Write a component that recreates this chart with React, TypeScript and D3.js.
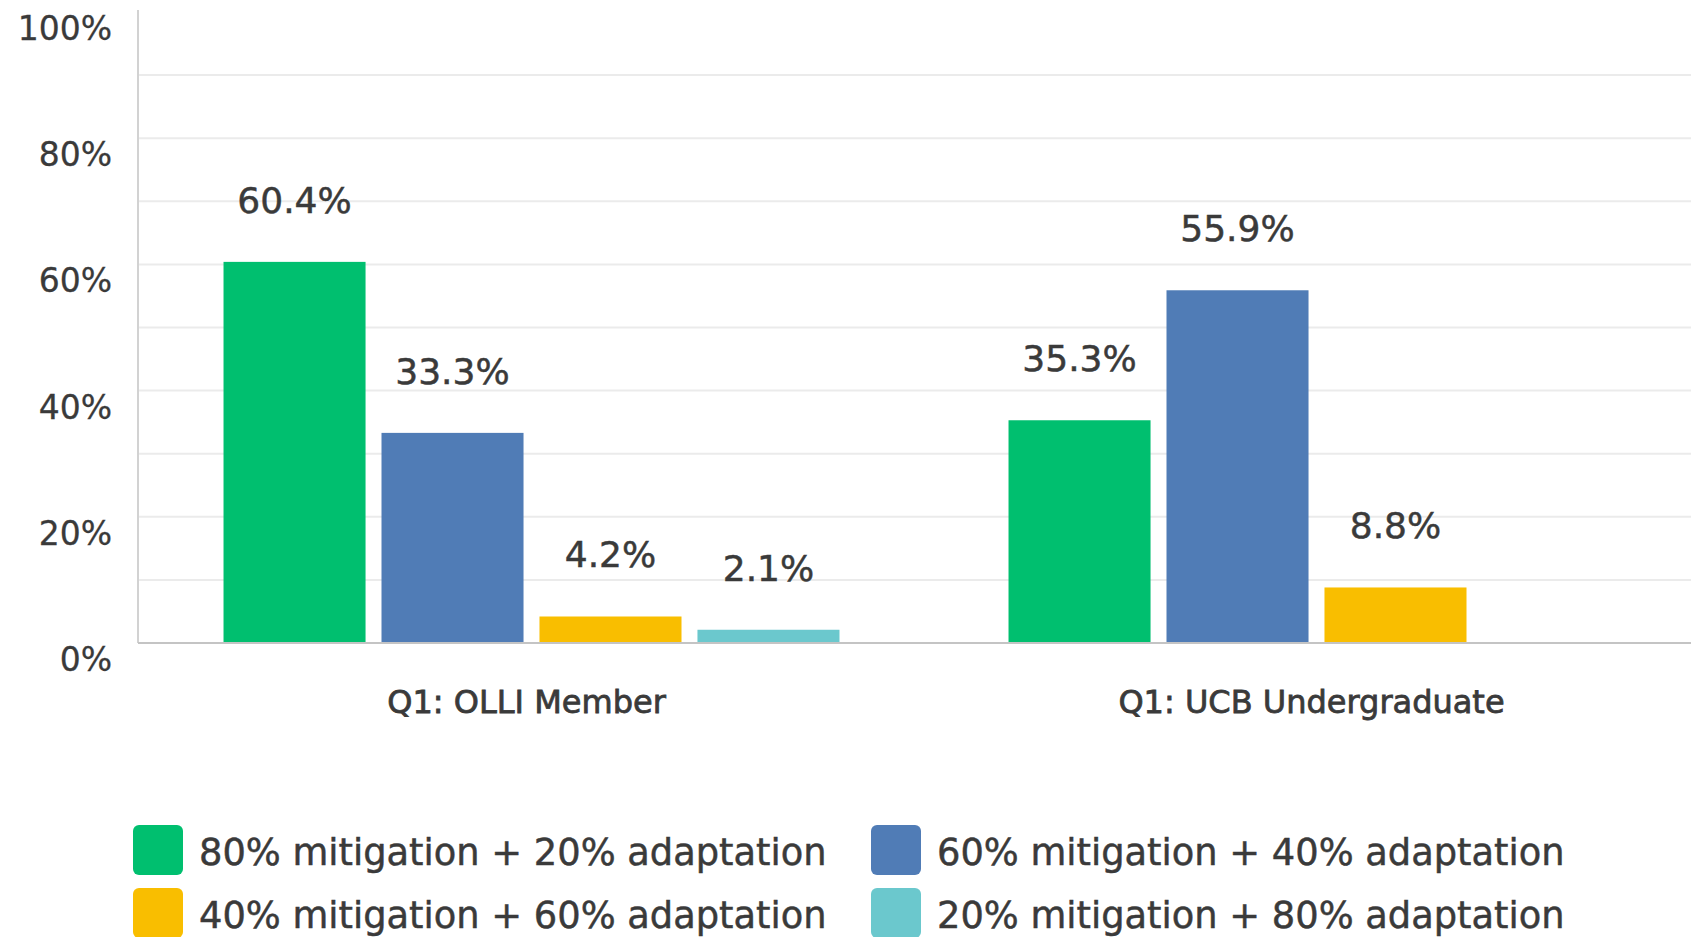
import React from "react";
import * as d3 from "d3";

const categories = ["Q1: OLLI Member", "Q1: UCB Undergraduate"];
const seriesNames = [
  "80% mitigation + 20% adaptation",
  "60% mitigation + 40% adaptation",
  "40% mitigation + 60% adaptation",
  "20% mitigation + 80% adaptation",
];
const seriesColors = ["#00BF6F", "#507CB6", "#F9BE00", "#6BC8CD"];
// values[series][category]
const mit80 = [60.4, 35.3];
const mit60 = [33.3, 55.9];
const mit40 = [4.2, 8.8];
const mit20 = [2.1, 0.0];
const seriesValues = [mit80, mit60, mit40, mit20];
const yTickValues = [0, 20, 40, 60, 80, 100];
const gridValues = [10, 20, 30, 40, 50, 60, 70, 80, 90];

const W = 1691;
const H = 937;
const FONT = "'DejaVu Sans', sans-serif";
const TEXT = "#3a3a3a";

export default function App() {
  const plotLeft = 139;
  const plotRight = 1709;
  const plotTop = 12;
  const plotBottom = 643;

  const x0 = d3.scaleBand<string>().domain(categories).range([plotLeft, plotRight]).paddingInner(0).paddingOuter(0);
  const x1 = d3
    .scaleBand<string>()
    .domain(seriesNames)
    .range([0, x0.bandwidth()])
    .paddingInner(0.101)
    .paddingOuter(0.535);
  const y = d3.scaleLinear().domain([0, 100]).range([plotBottom, plotTop]);

  const legendCols = [133, 871];
  const legendRows = [825, 888];

  return (
    <svg
      width={W}
      height={H}
      style={{ position: "absolute", left: 0, top: 0, background: "#fff" }}
      fontFamily={FONT}
    >
      <rect x={0} y={0} width={W} height={H} fill="#fff" />
      {gridValues.map((g) => (
        <line key={g} x1={plotLeft} x2={W} y1={y(g)} y2={y(g)} stroke="#ebebeb" strokeWidth={2} />
      ))}
      <line x1={138} x2={138} y1={10} y2={plotBottom} stroke="#d2d2d2" strokeWidth={2} />
      {yTickValues.map((t) => (
        <text key={t} x={112} y={y(t) + 28} textAnchor="end" fontSize={33} fill={TEXT} stroke={TEXT} strokeWidth={0.3}>
          {`${t}%`}
        </text>
      ))}
      {categories.map((c, ci) => (
        <g key={c} transform={`translate(${x0(c)},0)`}>
          {seriesNames.map((s, si) => {
            const v = seriesValues[si][ci];
            if (v <= 0) return null;
            const bx = x1(s)!;
            return (
              <g key={s}>
                <rect x={bx} y={y(v)} width={x1.bandwidth()} height={plotBottom - y(v)} fill={seriesColors[si]} />
                <text
                  x={bx + x1.bandwidth() / 2}
                  y={y(v) - 49}
                  textAnchor="middle"
                  fontSize={36}
                  fill={TEXT}
                  stroke={TEXT}
                  strokeWidth={0.5}
                >
                  {`${v.toFixed(1)}%`}
                </text>
              </g>
            );
          })}
          <text
            x={x0.bandwidth() / 2 - 5}
            y={713}
            textAnchor="middle"
            fontSize={32}
            fill={TEXT}
            stroke={TEXT}
            strokeWidth={0.8}
          >
            {c}
          </text>
        </g>
      ))}
      <line x1={plotLeft - 1} x2={W} y1={plotBottom} y2={plotBottom} stroke="#c4c4c4" strokeWidth={2} />
      {seriesNames.map((s, si) => {
        const col = si % 2;
        const row = Math.floor(si / 2);
        const lx = legendCols[col];
        const ly = legendRows[row];
        return (
          <g key={s}>
            <rect x={lx} y={ly} width={50} height={50} rx={6} fill={seriesColors[si]} />
            <text x={lx + 66} y={ly + 40} fontSize={36.8} fill={TEXT} stroke={TEXT} strokeWidth={0.5}>
              {s}
            </text>
          </g>
        );
      })}
    </svg>
  );
}
